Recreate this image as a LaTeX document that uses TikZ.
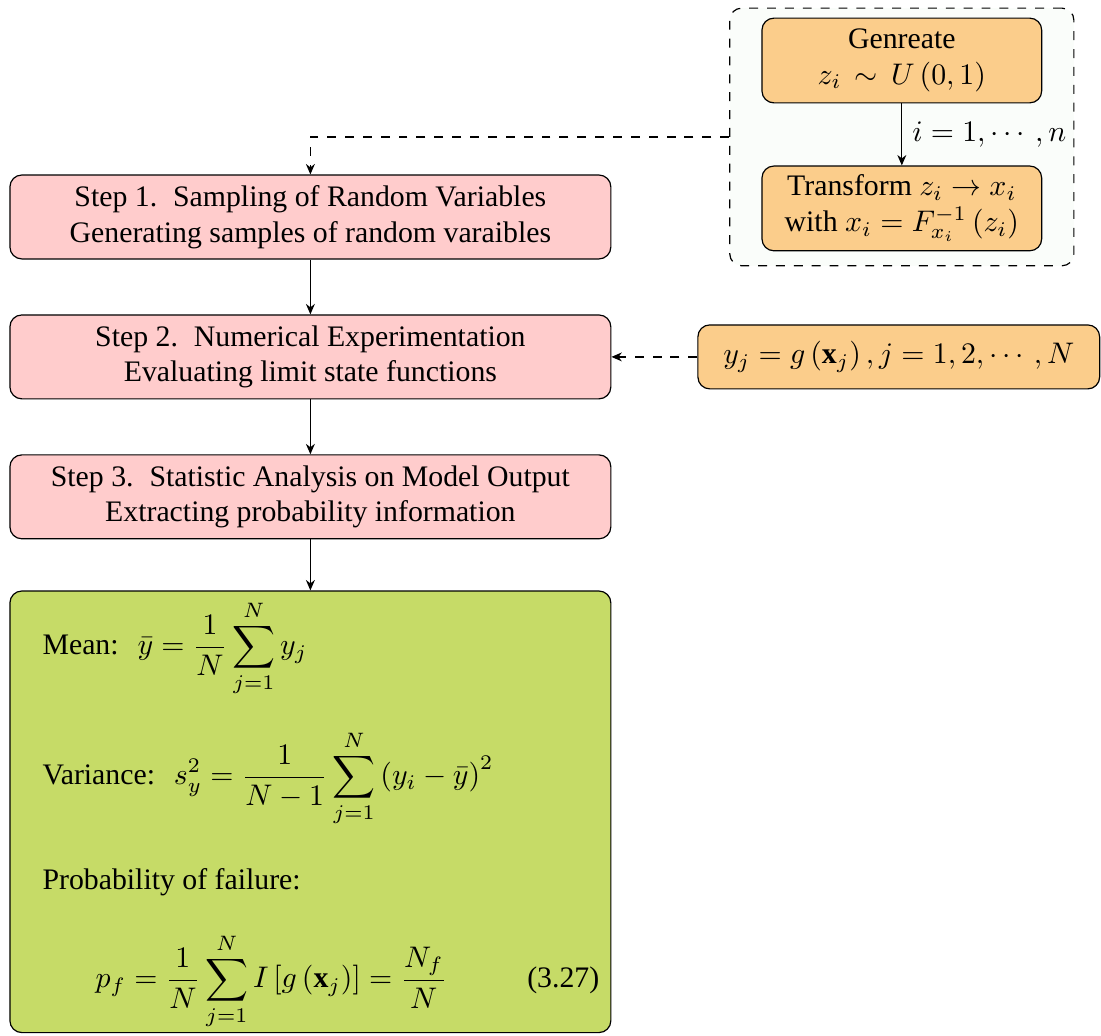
\documentclass[tikz,border=0pt]{standalone}
\usepackage{fontspec}
\setmainfont{Liberation Serif}
\usepackage{amsmath}
\usetikzlibrary{arrows.meta,positioning}

\definecolor{stepred}{RGB}{255,204,204}
\definecolor{genorange}{RGB}{251,205,139}
\definecolor{outgreen}{RGB}{198,219,103}
\definecolor{grouptint}{RGB}{250,253,250}

\tikzset{
    stepbox/.style={draw, rounded corners, fill=stepred, minimum width=7.09cm,
        minimum height=0.99cm, align=center, inner sep=0pt},
    genbox/.style={draw, rounded corners, fill=genorange, minimum height=1cm,
        align=center, inner sep=0pt},
    flow/.style={-{Stealth[length=3.5pt,width=3pt]}},
    dflow/.style={flow, dashed},
}

\begin{document}
\begin{tikzpicture}
    \useasboundingbox (0,0) rectangle (12.99,-12.22);

    % Sampling group on the right
    \node[draw, dashed, rounded corners, fill=grouptint, minimum width=4.06cm,
        minimum height=3.04cm] (group) at (10.64,-1.616) {};
    \node[genbox, minimum width=3.30cm] (gen) at (10.64,-0.714)
        {Genreate\\ $z_i \,\sim\, U\left(0,1\right)$};
    \node[genbox, minimum width=3.30cm] (trans) at (10.64,-2.459)
        {Transform $z_i \rightarrow x_i$\\ with $x_i = F_{x_i}^{-1}\left(z_i\right)$};
    \draw[flow] (gen) -- node[right] {$i=1,\cdots,n$} (trans);

    % Steps
    \node[stepbox] (step1) at (3.662,-2.560)
        {Step 1.\hspace{2pt} Sampling of Random Variables\\ Generating samples of random varaibles};
    \node[stepbox] (step2) at (3.662,-4.211)
        {Step 2.\hspace{2pt} Numerical Experimentation\\ Evaluating limit state functions};
    \node[stepbox] (step3) at (3.662,-5.862)
        {Step 3.\hspace{2pt} Statistic Analysis on Model Output\\ Extracting probability information};

    % Model evaluation
    \node[genbox, minimum width=4.74cm, minimum height=0.755cm] (ybox) at (10.604,-4.211)
        {$y_j = g\left(\mathbf{x}_j\right), j = 1, 2, \cdots, N$};

    % Output statistics
    \node[draw, rounded corners, fill=outgreen, minimum width=7.09cm,
        minimum height=5.21cm] (stats) at (3.662,-9.578) {};
    \node[anchor=base west, inner sep=0pt] (mean) at (0.495,-7.726)
        {Mean:\hspace{3pt} $\displaystyle \bar{y} = \frac{1}{N}\sum_{j=1}^{N} y_j$};
    \node[anchor=base west, inner sep=0pt] (var) at (0.495,-9.259)
        {Variance:\hspace{3pt} $\displaystyle s_y^2 = \frac{1}{N-1}\sum_{j=1}^{N}\left(y_i-\bar{y}\right)^2$};
    \node[anchor=base west, inner sep=0pt] (fail) at (0.495,-10.498)
        {Probability of failure:};
    \node[anchor=base west, inner sep=0pt] (pf) at (1.121,-11.653)
        {$\displaystyle p_f = \frac{1}{N}\sum_{j=1}^{N} I\left[g\left(\mathbf{x}_j\right)\right] = \frac{N_f}{N}$};
    \node[anchor=base east, inner sep=0pt] (eqno) at (7.077,-11.653) {(3.27)};

    % Connections
    \draw[dflow] (group.west) -| (step1.north);
    \draw[flow] (step1) -- (step2);
    \draw[flow] (step2) -- (step3);
    \draw[flow] (step3) -- (stats);
    \draw[dflow] (ybox) -- (step2);
\end{tikzpicture}
\end{document}
